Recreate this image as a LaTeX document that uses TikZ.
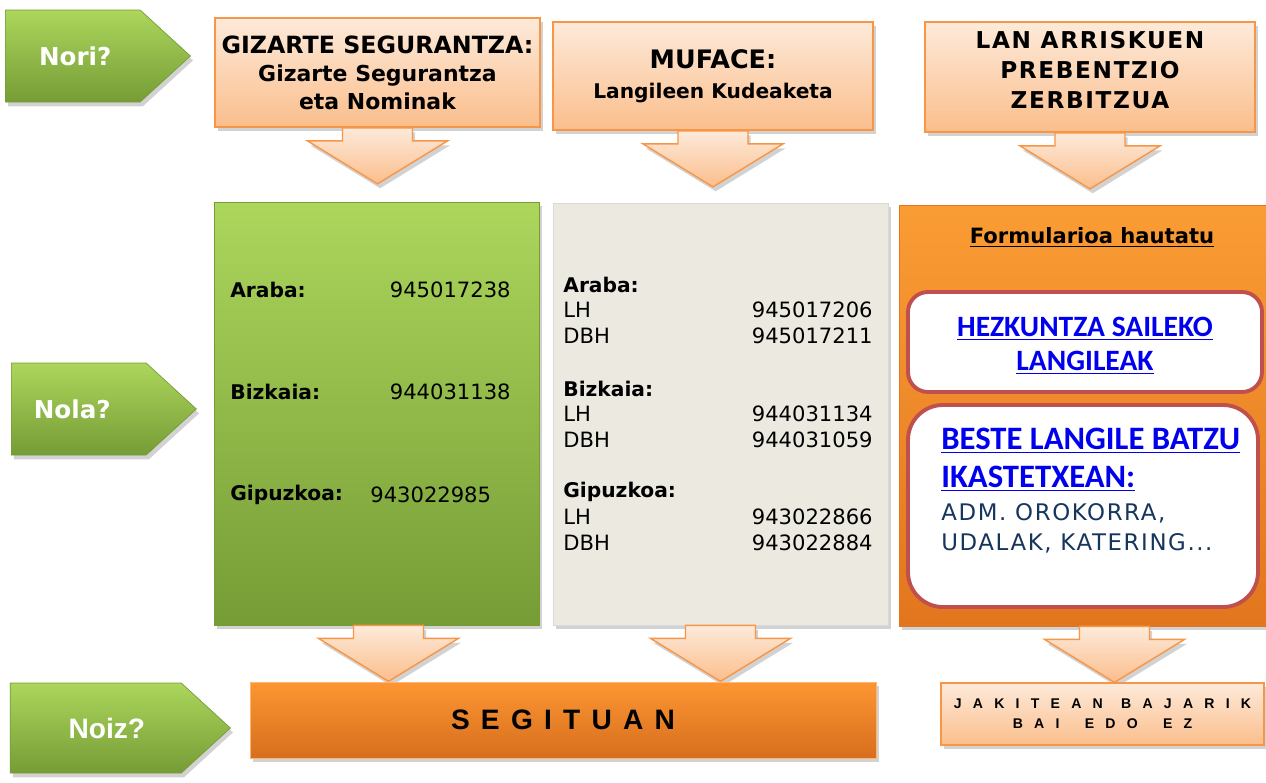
\documentclass[tikz,border=0pt]{standalone}
\usepackage{fontspec}
\setmainfont{DejaVu Sans}
\newfontfamily\linkfont{Carlito}
\newfontfamily\arialfont{Liberation Sans}
\newfontfamily\spacedfont[LetterSpace=40]{Liberation Sans}
\newfontfamily\widespacedfont[LetterSpace=80]{Liberation Sans}
\newfontfamily\spacedsans[LetterSpace=7]{DejaVu Sans}
\usepackage{xcolor}
\definecolor{greentop}{RGB}{172,214,92}
\definecolor{greenbot}{RGB}{118,156,54}
\definecolor{peachtop}{RGB}{253,234,218}
\definecolor{peachbot}{RGB}{251,190,140}
\definecolor{peachline}{RGB}{247,150,70}
\definecolor{greybox}{RGB}{236,234,224}
\definecolor{orangetop}{RGB}{250,156,52}
\definecolor{orangebot}{RGB}{226,118,30}
\definecolor{segtop}{RGB}{253,150,50}
\definecolor{segbot}{RGB}{214,110,30}
\definecolor{framered}{RGB}{192,80,77}
\definecolor{linkblue}{RGB}{0,0,238}
\definecolor{navy}{RGB}{23,54,93}
\usepackage{tikz}
\usetikzlibrary{positioning}
\usetikzlibrary{shapes.symbols,shadows,calc}

\begin{document}
\begin{tikzpicture}[
  softshadow/.style={drop shadow={shadow xshift=1.5pt,shadow yshift=-2.5pt,opacity=0.35}},
  question/.style={signal,signal to=east,signal pointer angle=85,anchor=west,top color=greentop,bottom color=greenbot,draw=greenbot,minimum width=3.7cm,minimum height=1.84cm,inner sep=0pt,softshadow},
  qtext/.style={text=white,font=\fontsize{14}{16}\selectfont\bfseries},
  header/.style={rectangle,top color=peachtop,bottom color=peachbot,draw=peachline,line width=1pt,align=center,font=\bfseries,softshadow},
  bigarrow/.style={top color=peachtop,bottom color=peachbot,draw=peachline,line width=0.8pt,softshadow},
  entry/.style={inner sep=0pt,font=\fontsize{12}{14}\selectfont},
  bentry/.style={inner sep=0pt,font=\fontsize{11.5}{14}\selectfont\bfseries},
  innerbox/.style={rectangle,rounded corners=0.4cm,draw=framered,line width=2.2pt,fill=white}
]
\path[use as bounding box,fill=white] (0,0) rectangle (25.32,-15.64);

%questions on the left
\node (nori) at (0.1,-1.12) [question,label={[qtext,xshift=0.05cm]center:Nori?}] {};
\node (nola) at (0.22,-8.18) [question,label={[qtext,xshift=-0.13cm]center:Nola?}] {};
\node (noiz) at (0.2,-14.56) [question,minimum width=4.4cm,minimum height=1.8cm,label={[qtext,font=\arialfont\bfseries\fontsize{16}{18}\selectfont,xshift=0.22cm]center:Noiz?}] {};

%who: header boxes
\node (gs) at (7.55,-1.45) [header,minimum width=6.5cm,minimum height=2.18cm,font=\fontsize{12.5}{16}\selectfont\bfseries] {{\fontsize{13.5}{16}\selectfont GIZARTE SEGURANTZA:}\\Gizarte Segurantza\\eta Nominak};
\node (mf) at (14.26,-1.52) [header,minimum width=6.4cm,minimum height=2.16cm,font=\fontsize{11.5}{17}\selectfont\bfseries] {{\fontsize{14.5}{17}\selectfont MUFACE:}\\Langileen Kudeaketa};
\node (lan) at (21.8,-1.54) [header,minimum width=6.6cm,minimum height=2.2cm] {};
\node (lant) at (21.8,-1.4) [align=center,font=\spacedsans\fontsize{13.2}{17}\selectfont\bfseries] {LAN ARRISKUEN\\PREBENTZIO\\ZERBITZUA};

%arrows down to the how row
\foreach \n/\s in {gs/0,mf/0,lan/0}{
  \draw[bigarrow] ($(\n.south)+(\s-0.7,0)$) -- ++(0,-0.26) -- ++(-0.7,0) -- ($(\n.south)+(\s,-1.12)$) -- ($(\n.south)+(\s+1.4,-0.26)$) -- ++(-0.7,0) -- ($(\n.south)+(\s+0.7,0)$) -- cycle;
}

%how: phone boxes
\node (green) at (7.53,-8.27) [rectangle,top color=greentop,bottom color=greenbot,draw=greenbot,minimum width=6.5cm,minimum height=8.46cm,softshadow] {};
\node (grey) at (14.41,-8.28) [rectangle,fill=greybox,draw=black!15,minimum width=6.7cm,minimum height=8.44cm,softshadow] {};
\node (orange) at (21.65,-8.31) [rectangle,top color=orangetop,bottom color=orangebot,draw=orangebot,minimum width=7.34cm,minimum height=8.42cm,softshadow] {};

%phones of the green box
\node (ga) at (4.6,-5.8) [bentry,anchor=west] {Araba:};
\node (gan) at (10.22,-5.8) [entry,anchor=east] {945017238};
\node (gb) at (4.6,-7.84) [bentry,anchor=west] {Bizkaia:};
\node (gbn) at (10.22,-7.84) [entry,anchor=east] {944031138};
\node (gg) at (4.6,-9.9) [bentry,anchor=west] {Gipuzkoa:};
\node (ggn) at (7.4,-9.9) [entry,anchor=west] {943022985};

%phones of the grey box
\foreach \y/\p/\a/\b [count=\k] in {-5.7/Araba/945017206/945017211,-7.78/Bizkaia/944031134/944031059,-9.84/Gipuzkoa/943022866/943022884}{
  \node (p\k) at (11.26,\y) [bentry,anchor=west] {\p:};
  \node (lh\k) at (11.26,\y-0.5) [entry,anchor=west] {LH};
  \node (lhn\k) at (17.46,\y-0.5) [entry,anchor=east] {\a};
  \node (dbh\k) at (11.26,\y-1.02) [entry,anchor=west] {DBH};
  \node (dbhn\k) at (17.46,\y-1.02) [entry,anchor=east] {\b};
}

%forms of the orange box
\node (form) at (21.84,-4.74) [font=\fontsize{12}{14}\selectfont\bfseries] {\underline{Formularioa hautatu}};
\node (hez) at (21.7,-6.84) [innerbox,minimum width=7.08cm,minimum height=2cm] {};
\node (hezt) at (21.7,-6.92) [align=center,text=linkblue,font=\linkfont\bfseries\fontsize{16.8}{19.5}\selectfont] {\underline{HEZKUNTZA SAILEKO}\\\underline{LANGILEAK}};
\node (beste) at (21.66,-10.12) [innerbox,rounded corners=0.7cm,minimum width=7cm,minimum height=4.04cm] {};
\node (bestet) at (18.82,-9.2) [inner sep=0pt,anchor=west,align=left,text=linkblue,font=\linkfont\bfseries\fontsize{18.6}{21.5}\selectfont] {\underline{BESTE LANGILE BATZU}\\\underline{IKASTETXEAN:}};
\node (adm) at (18.82,-10.56) [inner sep=0pt,anchor=west,align=left,text=navy,font=\spacedsans\fontsize{13}{17}\selectfont] {ADM. OROKORRA,\\UDALAK, KATERING...};

%arrows down to the when row
\foreach \n/\s in {green/0.24,grey/0,orange/0.64}{
  \draw[bigarrow] ($(\n.south)+(\s-0.7,0)$) -- ++(0,-0.26) -- ++(-0.7,0) -- ($(\n.south)+(\s,-1.12)$) -- ($(\n.south)+(\s+1.4,-0.26)$) -- ++(-0.7,0) -- ($(\n.south)+(\s+0.7,0)$) -- cycle;
}

%when
\node (seg) at (11.26,-14.4) [rectangle,top color=segtop,bottom color=segbot,draw=segtop!70!white,minimum width=12.52cm,minimum height=1.52cm,softshadow,font=\spacedfont\bfseries\fontsize{16}{18}\selectfont] {SEGITUAN};
\node (jak) at (22.05,-14.28) [header,minimum width=6.46cm,minimum height=1.24cm,font=\widespacedfont\bfseries\fontsize{8}{11.3}\selectfont] {JAKITEAN\hspace{1.3em}BAJARIK\\BAI\hspace*{1.8em}EDO\hspace*{1.8em}EZ};
\end{tikzpicture}
\end{document}
